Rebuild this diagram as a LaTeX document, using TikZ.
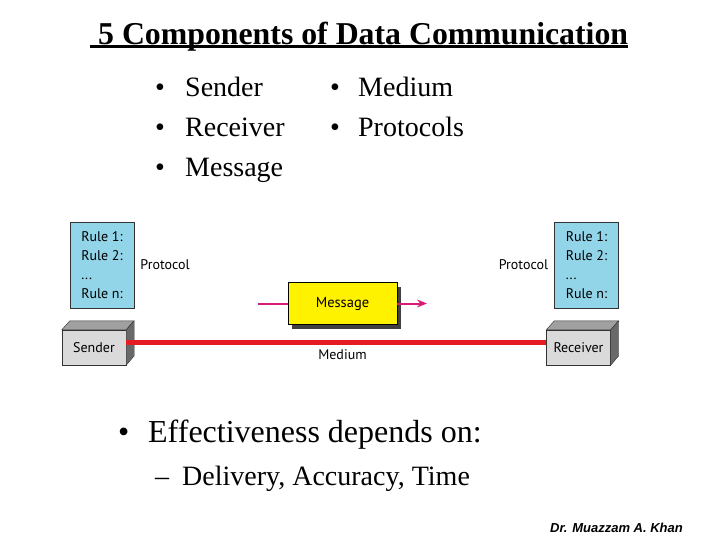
\documentclass[tikz,border=0pt]{standalone}
\usepackage{fontspec}
\setmainfont{Liberation Serif}
\newfontfamily\figfont{PT Sans}
\newfontfamily\signfont{Liberation Sans}
\usetikzlibrary{positioning,shadows,arrows.meta}

\definecolor{ruleblue}{RGB}{146,212,232}
\definecolor{frontgray}{RGB}{218,218,218}
\definecolor{topgray}{RGB}{160,160,160}
\definecolor{sidegray}{RGB}{105,105,105}
\definecolor{wirered}{RGB}{228,28,36}
\definecolor{msgpink}{RGB}{214,30,120}

\tikzstyle{point} = [anchor=base west, inner sep=0pt, font=\fontsize{28}{34}\selectfont]
\tikzstyle{bigpoint} = [anchor=base west, inner sep=0pt, font=\fontsize{32}{38}\selectfont]
\tikzstyle{figtext} = [inner sep=1pt, font=\figfont\fontsize{14}{17}\selectfont]
\tikzstyle{rulebox} = [rectangle, draw=black!80, thin, fill=ruleblue, minimum width=64pt, minimum height=86pt, align=left, font=\figfont\fontsize{14}{19}\selectfont]
\tikzstyle{station} = [rectangle, draw=black!80, thin, fill=frontgray, minimum width=64pt, minimum height=35pt, font=\figfont\fontsize{14}{17}\selectfont]
\tikzstyle{msgbox} = [rectangle, draw=black, thin, fill=yellow, minimum width=109pt, minimum height=42pt, drop shadow={shadow xshift=4pt, shadow yshift=-4pt, fill=black!75, opacity=1}, font=\figfont\fontsize{14.5}{17}\selectfont]
\tikzstyle{wire} = [line width=5pt, wirered]
\tikzstyle{msgline} = [line width=2pt, msgpink]

\begin{document}
\begin{tikzpicture}[x=1pt, y=-1pt]
\useasboundingbox (0,0) rectangle (720,540);

% title
\node (title) [anchor=base west, inner sep=0pt, font=\bfseries\fontsize{31.8}{38}\selectfont] at (90,44.5) {\ 5 Components of Data Communication};
\draw [line width=3pt] ([yshift=-2.5pt]title.base west) -- ([yshift=-2.5pt]title.base east);

% components
\node (comp1) [point] at (155,97) {\makebox[30pt][l]{\textbullet}Sender};
\node (comp2) [point] at (155,137) {\makebox[30pt][l]{\textbullet}Receiver};
\node (comp3) [point] at (155,177) {\makebox[30pt][l]{\textbullet}Message};
\node (comp4) [point] at (330,97) {\makebox[28pt][l]{\textbullet}Medium};
\node (comp5) [point] at (330,137) {\makebox[28pt][l]{\textbullet}Protocols};

% sender and receiver
\node (sender) [station] at (94,347.5) {Sender};
\draw [thin, draw=black!80, fill=topgray] (sender.north west) -- ++(8,-9) -- ++(64,0) -- (sender.north east) -- cycle;
\draw [thin, draw=black!80, fill=sidegray] (sender.north east) -- ++(8,-9) -- ++(0,35) -- (sender.south east) -- cycle;
\node (receiver) [station] at (578.5,347.5) {Receiver};
\draw [thin, draw=black!80, fill=topgray] (receiver.north west) -- ++(8,-9) -- ++(64,0) -- (receiver.north east) -- cycle;
\draw [thin, draw=black!80, fill=sidegray] (receiver.north east) -- ++(8,-9) -- ++(0,35) -- (receiver.south east) -- cycle;

% protocols
\node (rulesL) [rulebox] at (102,265) {Rule 1:\\Rule 2:\\...\\Rule n:};
\node (rulesR) [rulebox] at (586.5,265) {Rule 1:\\Rule 2:\\...\\Rule n:};
\node (protoL) [figtext, right=5pt of rulesL] {Protocol};
\node (protoR) [figtext, left=5pt of rulesR] {Protocol};

% medium
\draw [wire] ([yshift=5.5pt]sender.east) -- ([yshift=5.5pt]receiver.west);
\node (medium) [figtext] at (342.5,355) {Medium};

% message
\node (message) [msgbox] at (342.5,303.5) {Message};
\coordinate (msgsrc) at (258,303.5);
\coordinate (msgdst) at (427,303.5);
\draw [msgline] (msgsrc) -- (message);
\draw [msgline, -{Stealth[length=10pt, width=8pt]}] (message) -- (msgdst);

% effectiveness
\node (effect) [bigpoint] at (118,442) {\makebox[30pt][l]{\textbullet}Effectiveness depends on:};
\node (criteria) [point] at (155,485) {\makebox[27pt][l]{--}Delivery, Accuracy, Time};

\node (author) [anchor=base east, inner sep=0pt, font=\signfont\bfseries\itshape\fontsize{13}{15}\selectfont] at (683,532) {Dr. Muazzam A. Khan};
\end{tikzpicture}
\end{document}
